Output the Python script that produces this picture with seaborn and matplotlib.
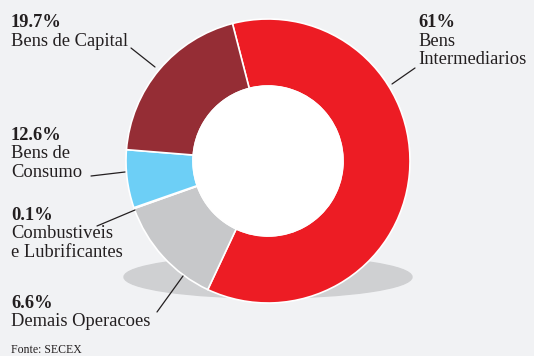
import matplotlib
matplotlib.use("Agg")
import matplotlib.pyplot as plt
from matplotlib.patches import Ellipse, Circle
import seaborn as sns

# slices in drawing order (clockwise from the top)
slice_names = ['Bens Intermediarios', 'Demais Operacoes', 'Combustiveis e Lubrificantes',
               'Bens de Consumo', 'Bens de Capital']
slice_values = [61, 12.6, 0.1, 6.6, 19.7]
slice_colors = ['#ED1C24', '#C7C8CA', '#1D3C6E', '#6DCFF6', '#952D35']

# labels as printed on the chart
label_pcts = ['19.7%', '61%', '12.6%', '0.1%', '6.6%']
label_texts = [['Bens de Capital'], ['Bens', 'Intermediarios'], ['Bens de', 'Consumo'],
               ['Combustiveis', 'e Lubrificantes'], ['Demais Operacoes']]
source = 'Fonte: SECEX'

sns.set_style('white')
plt.rcParams['font.family'] = ['Liberation Serif', 'DejaVu Serif']

W, H = 534, 356
bg = '#F1F2F4'
fig = plt.figure(figsize=(W / 100, H / 100), dpi=100, facecolor=bg)
ax = fig.add_axes([0, 0, 1, 1])
ax.set_facecolor(bg)

def py(y):
    return H - y

cx, cy, r_out, r_in = 268, py(161), 142, 75

# shadow
ax.add_patch(Ellipse((268, py(277)), 288, 42, color='#CFD0D2', zorder=1))

ax.pie(slice_values, colors=slice_colors, startangle=104.5, counterclock=False,
       center=(cx, cy), radius=r_out, frame=True,
       wedgeprops=dict(width=r_out - r_in, edgecolor='white', linewidth=1.2, zorder=2))
ax.add_patch(Circle((cx, cy), r_in, color='white', zorder=3))
ax.set_xlim(0, W)
ax.set_ylim(0, H)
ax.set_aspect('equal')
ax.axis('off')

# label positions: (x, first baseline), leader line endpoints
label_pos = [(11, 27), (418, 27), (11, 140), (11, 220), (11, 308)]
leaders = [((131, 48), (155, 67)), ((415, 68), (392, 84)), ((91, 176), (125, 172)),
           ((97, 226), (135, 210)), ((157, 312), (183, 276))]
tc = '#231F20'
fs = 13.3
for pct, lines, (x, yb), (p0, p1) in zip(label_pcts, label_texts, label_pos, leaders):
    ax.text(x, py(yb), pct, fontsize=fs, fontweight='bold', color=tc, va='baseline', zorder=5)
    for i, t in enumerate(lines):
        ax.text(x, py(yb + 18.5 * (i + 1)), t, fontsize=fs, color=tc, va='baseline', zorder=5)
    ax.plot([p0[0], p1[0]], [py(p0[1]), py(p1[1])], color=tc, lw=0.9, zorder=5)

ax.text(11, py(353), source, fontsize=8.5, color=tc, va='baseline')

fig.savefig('out.png', dpi=100, facecolor=bg)
